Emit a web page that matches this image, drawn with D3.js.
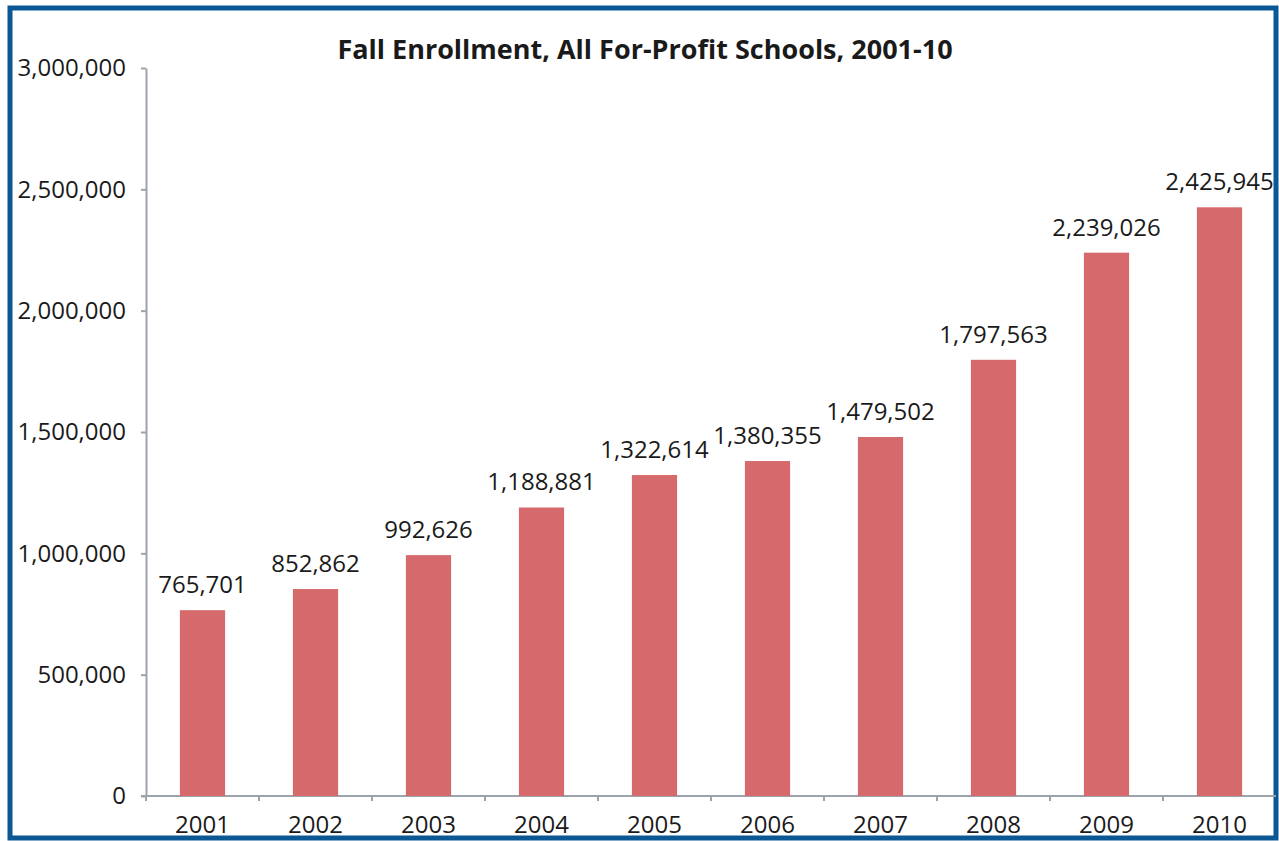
<!DOCTYPE html>
<meta charset="utf-8">
<head>
  <title>fall-enrollment</title>
</head>
<style>
  body { margin: 0; background: #fff; }
  text { font-family: "Open Sans", sans-serif; fill: #1a1a1a; }
</style>
<body>
  <svg width="1279" height="841"></svg>

  <script src="https://cdnjs.cloudflare.com/ajax/libs/d3/7.8.5/d3.min.js"></script>
  <script>
    var years = ['2001', '2002', '2003', '2004', '2005', '2006', '2007', '2008', '2009', '2010'];
    var enrollment = [765701, 852862, 992626, 1188881, 1322614, 1380355, 1479502, 1797563, 2239026, 2425945];
    var yTicks = [0, 500000, 1000000, 1500000, 2000000, 2500000, 3000000];

    var svg = d3.select('svg');
    var plot = { left: 146, right: 1276, top: 68, bottom: 796 };

    // frame
    svg.append('rect')
      .attr('x', 10).attr('y', 8)
      .attr('width', 1266).attr('height', 830)
      .attr('fill', 'none')
      .attr('stroke', '#0a5794')
      .attr('stroke-width', 5);

    svg.append('text')
      .attr('x', 645).attr('y', 59)
      .attr('text-anchor', 'middle')
      .style('font-weight', 'bold')
      .style('font-size', '27px')
      .text('Fall Enrollment, All For-Profit Schools, 2001-10');

    var x = d3.scaleBand().domain(years).range([plot.left, plot.right]).paddingInner(0.6).paddingOuter(0.3);
    var band = d3.scaleBand().domain(years).range([plot.left, plot.right]);
    var y = d3.scaleLinear().domain([0, 3000000]).range([plot.bottom, plot.top]);
    var fmt = d3.format(',');

    var yAxis = svg.append('g')
      .attr('transform', 'translate(' + plot.left + ',0)')
      .call(d3.axisLeft(y).tickValues(yTicks).tickFormat(fmt).tickSize(5).tickPadding(15).tickSizeOuter(0));
    yAxis.selectAll('text').style('font-size', '24px').attr('fill', '#1a1a1a');

    var xAxis = svg.append('g')
      .attr('transform', 'translate(0,' + plot.bottom + ')')
      .call(d3.axisBottom(band).tickSize(0).tickPadding(20));
    xAxis.selectAll('text').style('font-size', '24px').attr('fill', '#1a1a1a');
    xAxis.select('.domain').remove();

    var axisLines = svg.append('g');
    axisLines.selectAll('line')
      .data(years)
      .enter().append('line')
      .attr('x1', function(d) { return band(d); })
      .attr('x2', function(d) { return band(d); })
      .attr('y1', plot.bottom).attr('y2', plot.bottom + 5);

    axisLines.append('line')
      .attr('x1', plot.left - 5).attr('x2', plot.right)
      .attr('y1', plot.bottom).attr('y2', plot.bottom);

    svg.selectAll('.domain, .tick line, g > line')
      .attr('stroke', '#9da3ab').attr('stroke-width', 2);

    svg.append('g').selectAll('rect')
      .data(enrollment)
      .enter().append('rect')
      .attr('x', function(d, i) { return x(years[i]); })
      .attr('width', x.bandwidth())
      .attr('y', function(d) { return y(d); })
      .attr('height', function(d) { return plot.bottom - y(d); })
      .attr('fill', '#d6696b');

    svg.append('g').selectAll('text')
      .data(enrollment)
      .enter().append('text')
      .attr('x', function(d, i) { return x(years[i]) + x.bandwidth() / 2; })
      .attr('y', function(d) { return y(d) - 17; })
      .attr('text-anchor', 'middle')
      .style('font-size', '24px')
      .text(function(d) { return fmt(d); });
  </script>
</body>
</html>
